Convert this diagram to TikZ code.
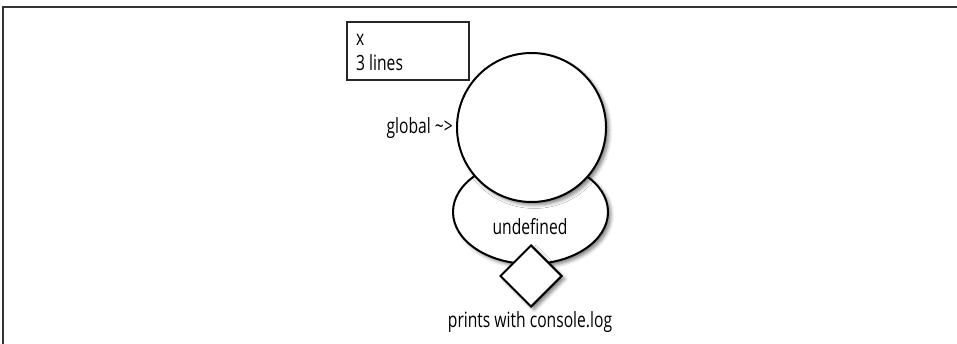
\documentclass[tikz,border=0pt]{standalone}
\usepackage{fontspec}
\setmainfont{Open Sans}[FakeStretch=0.745]
\usetikzlibrary{shapes.geometric,shadows.blur}
\begin{document}
\begin{tikzpicture}[x=1pt,y=-1pt,
  shapebox/.style={draw=black,line width=2pt,fill=white,
    blur shadow={shadow xshift=3pt,shadow yshift=-3pt,shadow blur radius=3.5pt,shadow opacity=50}},
  lbl/.style={font=\fontsize{21}{24}\selectfont,inner sep=0pt},
  frameline/.style={draw=black!80,line width=1.5pt}]
\useasboundingbox (0,0) rectangle (957,344);
\draw[frameline] (3,344) -- (3,7) -- (957,7);
% box
\node[draw=black!85,line width=2pt,minimum width=122pt,minimum height=58pt,inner sep=0pt] (box) at (408,51) {};
\node[lbl,anchor=west] (bx) at (356,40) {x};
\node[lbl,anchor=west] (bl) at (356,63) {3 lines};
% ellipse
\node[shapebox,ellipse,minimum width=155pt,minimum height=104pt,inner sep=0pt] (ell) at (530.5,212) {};
% circle
\node[shapebox,circle,minimum size=149pt,inner sep=0pt] (circ) at (531.5,127.5) {};
% diamond
\node[shapebox,diamond,minimum width=62pt,minimum height=62pt,inner sep=0pt] (dia) at (531,276) {};
\node[lbl] (und) at (530,227) {undefined};
\node[lbl,anchor=east] (glob) at (453,128) {global \textasciitilde>};
\node[lbl] (prn) at (530,322) {prints with console.log};
\end{tikzpicture}
\end{document}
